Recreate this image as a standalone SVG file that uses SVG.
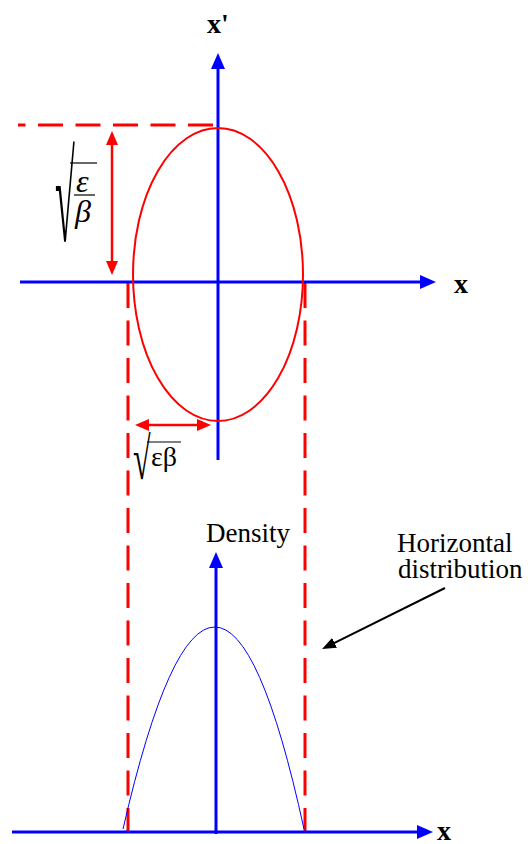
<svg xmlns="http://www.w3.org/2000/svg" width="528" height="844" viewBox="0 0 528 844">
<style>
.axis{stroke:#0000ff;stroke-width:3;fill:none}
.dash{stroke:#ff0000;stroke-width:3;fill:none;stroke-dasharray:25 12.5}
.red{stroke:#ff0000;stroke-width:2.5;fill:none}
.t{font-family:"Liberation Serif","Times New Roman",serif;fill:#000}
.b{font-weight:bold;font-size:28px}
</style>
<defs>
<marker id="ab" markerUnits="userSpaceOnUse" viewBox="0 0 16 14" refX="4" refY="7" markerWidth="16" markerHeight="14" orient="auto"><path d="M0,0 L16,7 L0,14 z" fill="#0000ff"/></marker>
<marker id="ar" markerUnits="userSpaceOnUse" viewBox="0 0 14 12" refX="4" refY="6" markerWidth="14" markerHeight="12" orient="auto-start-reverse"><path d="M0,0 L14,6 L0,12 z" fill="#ff0000"/></marker>
<marker id="ak" markerUnits="userSpaceOnUse" viewBox="0 0 14 11" refX="4" refY="5.5" markerWidth="14" markerHeight="11" orient="auto"><path d="M0,0 L14,5.5 L0,11 z" fill="#000"/></marker>
</defs>
<g id="connectors">
<line class="dash" x1="213" y1="125" x2="18" y2="125"/>
<line class="dash" x1="128" y1="283" x2="128" y2="833"/>
<line class="dash" x1="305" y1="283" x2="305" y2="833"/>
<line class="red" x1="112" y1="141" x2="112" y2="265" marker-start="url(#ar)" marker-end="url(#ar)"/>
<line class="red" x1="145" y1="425" x2="201" y2="425" marker-start="url(#ar)" marker-end="url(#ar)"/>
<line stroke="#000" stroke-width="2" x1="445" y1="588" x2="331" y2="644.6" marker-end="url(#ak)"/>
</g>
<g id="phase-space">
<line class="axis" x1="218" y1="460" x2="218" y2="65" marker-end="url(#ab)"/>
<line class="axis" x1="20" y1="282" x2="424" y2="282" marker-end="url(#ab)"/>
<ellipse cx="218" cy="274.5" rx="85" ry="146.5" fill="none" stroke="#ff0000" stroke-width="2"/>
<text class="t b" x="207" y="33">x'</text>
<text class="t b" x="454" y="293">x</text>
</g>
<g id="label-sqrt-eps-over-beta">
<text class="t" x="55" y="241" font-size="36" transform="translate(55 241) scale(1 3.5) translate(-55 -241)">√</text>
<line x1="70" y1="163" x2="97" y2="163" stroke="#000" stroke-width="1.2"/>
<text class="t" x="76" y="192" font-size="32" font-style="italic">ε</text>
<line x1="74" y1="195" x2="95" y2="195" stroke="#000" stroke-width="1.2"/>
<text class="t" x="75" y="222" font-size="32" font-style="italic">β</text>
</g>
<g id="label-sqrt-eps-beta">
<text class="t" x="133" y="479" font-size="32" transform="translate(133 479) scale(1 1.85) translate(-133 -479)">√</text>
<line x1="147" y1="442" x2="181" y2="442" stroke="#000" stroke-width="1.2"/>
<text class="t" x="151" y="466" font-size="28">εβ</text>
</g>
<g id="density-plot">
<line class="axis" x1="216" y1="834" x2="216" y2="564" marker-end="url(#ab)"/>
<line class="axis" x1="12" y1="832" x2="421" y2="832" marker-end="url(#ab)"/>
<path d="M123,829 Q216,425 304,829" fill="none" stroke="#0000ff" stroke-width="1"/>
<text class="t" x="206" y="542" font-size="27">Density</text>
<text class="t b" x="437" y="840">x</text>
</g>
<g id="label-horizontal-distribution">
<text class="t" x="397" y="552" font-size="27">Horizontal</text>
<text class="t" x="398" y="578" font-size="27">distribution</text>
</g>
</svg>
